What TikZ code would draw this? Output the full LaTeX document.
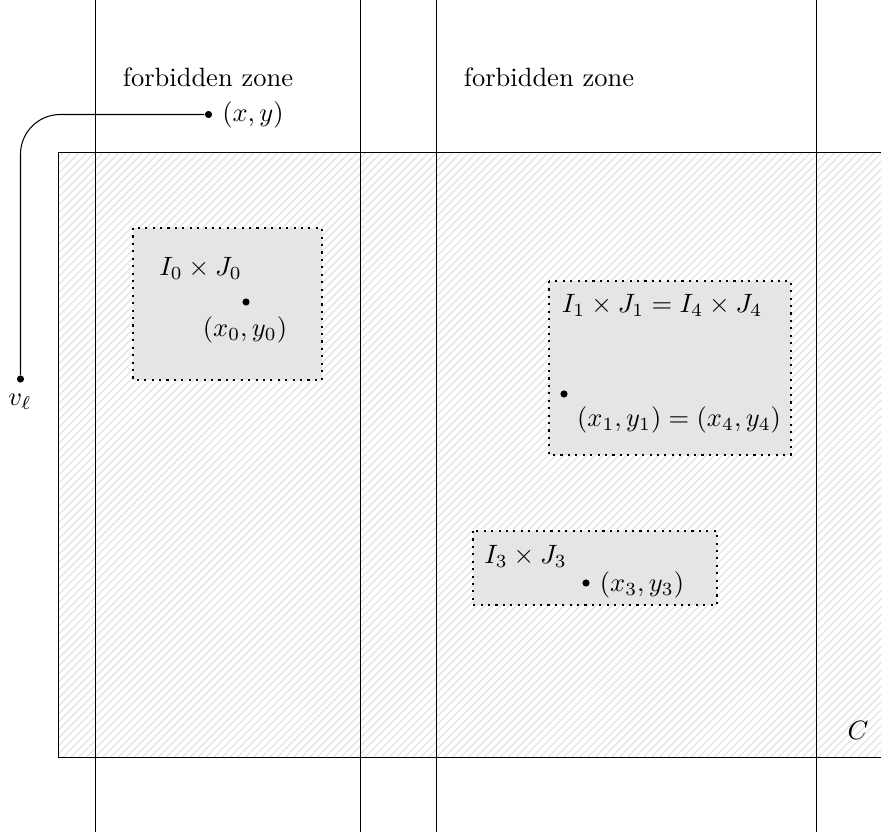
\documentclass[tikz,border=0pt]{standalone}
\usetikzlibrary{patterns}
\begin{document}
\begin{tikzpicture}[x=0.3774pt,y=-0.3774pt,
  zoneline/.style={draw, line width=0.4pt},
  hatchzone/.style={draw, line width=0.4pt, pattern=north east lines, pattern color=gray!25},
  boxI/.style={draw, dotted, line width=0.8pt, fill=gray!20},
  dotpt/.style={circle, fill=black, inner sep=0pt, minimum size=2.7pt},
  lbl/.style={inner sep=0pt}
]
\useasboundingbox (0,0) rectangle (881,836);
\clip (0,0) rectangle (881,836);
% region C
\path[hatchzone] (58.5,152.5) rectangle (900,757.5);
% vertical lines
\foreach \xx/\nm in {95.5/a,360.5/b,436.5/c,816.5/d}{
  \coordinate (t\nm) at (\xx,0);
  \coordinate (b\nm) at (\xx,832);
  \draw[zoneline] (t\nm) -- (b\nm);
}
% forbidden zones
\node[lbl] (fz1) at (208,77) {forbidden zone};
\node[lbl] (fz2) at (549,77) {forbidden zone};
% (x,y) and v_l
\node[dotpt] (pxy) at (208.5,114.5) {};
\node[lbl] (lxy) at (253,115) {$(x,y)$};
\node[dotpt] (pvl) at (20.5,379) {};
\node[lbl] (lvl) at (20,402) {$v_\ell$};
\draw[line width=0.4pt, rounded corners=15pt] (pxy) -| (pvl);
% boxes
\draw[boxI] (133,228) rectangle (322,380);
\node[lbl] (i0) at (200.5,268) {$I_0\times J_0$};
\node[dotpt] (p0) at (246,302) {};
\node[lbl] (l0) at (245,330) {$(x_0,y_0)$};

\draw[boxI] (549,281) rectangle (791,455);
\node[lbl] (i1) at (662,305) {$I_1\times J_1=I_4\times J_4$};
\node[dotpt] (p1) at (564,394) {};
\node[lbl] (l1) at (679,420) {$(x_1,y_1)=(x_4,y_4)$};

\draw[boxI] (473,531) rectangle (717,605);
\node[lbl] (i3) at (525.5,556) {$I_3\times J_3$};
\node[dotpt] (p3) at (586,583) {};
\node[lbl] (l3) at (642,585) {$(x_3,y_3)$};

\node[lbl] (lc) at (858,730) {$C$};
\end{tikzpicture}
\end{document}
